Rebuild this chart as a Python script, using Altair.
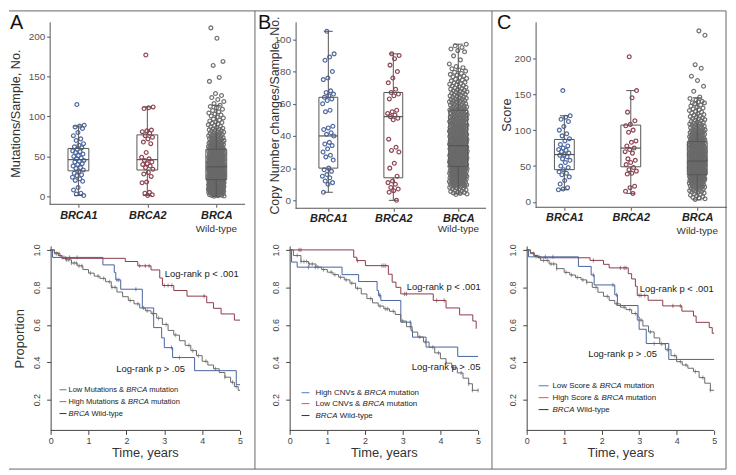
import altair as alt
import pandas as pd

FONT = "Liberation Sans"
CATS = ["BRCA1", "BRCA2", "WT"]
AX = "#555555"

# ======================= box-plot data =======================
# Panel A : Mutations/Sample
a_brca1 = [115, 89, 88, 87, 85, 80, 76, 72, 70, 66, 64, 62, 61, 59, 57, 56, 55, 53, 51, 50,
           48, 47, 45, 44, 43, 41, 40, 38, 36, 35, 33, 31, 29, 27, 26, 24, 22, 20, 19, 11, 8, 4, 3, 1]
a_brca2 = [177, 112, 111, 110, 83, 82, 81, 79, 76, 74, 72, 68, 66, 55, 49, 47, 45, 43, 41, 40,
           38, 36, 34, 30, 28, 25, 18, 17, 5, 4, 2, 1]
a_wt_bin = [2.5, 7.5, 12.5, 17.5, 22.5, 27.5, 32.5, 37.5, 42.5, 47.5, 52.5, 57.5, 62.5, 67.5,
            72.5, 77.5, 82.5, 87.5, 92.5, 97.5, 102.5, 107.5, 112.5, 117.5, 122.5, 127.5]
a_wt_cnt = [15, 27, 33, 37, 38, 37, 35, 32, 29, 26, 22, 19, 16, 13, 11, 9, 8, 6, 5, 4, 4, 3, 3, 2, 2, 2]
a_wt_out = [144, 149, 164, 169, 198, 211]
a_lo = [1, 1, 0]
a_q1 = [32, 33, 21]
a_med = [46, 46, 37]
a_q3 = [60, 77, 59]
a_hi = [88, 112, 114]

# Panel B : Copy Number changes/Sample
b_brca1 = [105, 91, 89, 87, 80, 76, 75, 68, 67, 66, 65, 64, 63, 62, 60, 56, 55, 46, 45, 44,
           42, 41, 40, 36, 35, 34, 32, 30, 28, 27, 25, 20, 19, 18, 16, 15, 14, 12, 11, 10, 5]
b_brca2 = [91, 90, 88, 84, 80, 76, 73, 69, 67, 66, 65, 63, 56, 55, 54, 53, 52, 51, 50, 38,
           33, 31, 30, 23, 20, 15, 12, 11, 10, 8, 7, 6, 5, 0]
b_wt_bin = [6, 11, 16, 21, 26, 31, 36, 41, 46, 51, 56, 61, 66, 71, 76, 81, 86, 91, 95]
b_wt_cnt = [16, 30, 36, 40, 42, 40, 36, 32, 28, 25, 22, 19, 16, 13, 10, 7, 2, 2, 5]
b_wt_out = []
b_lo = [5, 0, 4]
b_q1 = [20, 14, 21]
b_med = [40, 52, 34]
b_q3 = [64, 67, 56]
b_hi = [105, 91, 97]

# Panel C : Score
c_brca1 = [155, 120, 118, 115, 112, 105, 100, 95, 92, 88, 85, 80, 78, 75, 73, 72, 70, 68, 66,
           65, 63, 60, 58, 55, 50, 48, 45, 42, 40, 38, 35, 30, 25, 20, 18, 17]
c_brca2 = [202, 155, 145, 125, 113, 108, 106, 100, 97, 85, 83, 78, 75, 73, 70, 68, 60, 58, 55,
           52, 48, 45, 43, 40, 39, 22, 20, 15, 12]
c_wt_bin = [8, 18, 27, 35, 45, 55, 65, 75, 85, 95, 105, 115, 125, 135, 142]
c_wt_cnt = [10, 16, 22, 38, 50, 52, 45, 38, 30, 22, 16, 12, 9, 7, 5]
c_wt_out = [154, 161, 169, 175, 186, 191, 232, 238]
c_lo = [17, 12, 3]
c_q1 = [45, 49, 38]
c_med = [66, 75, 57]
c_q3 = [87, 107, 84]
c_hi = [120, 155, 145]

# ======================= Kaplan-Meier data =======================
a_blue_t = [0, 0.05, 1.38, 1.68, 1.72, 1.85, 2.42, 2.72, 2.93, 3.0, 3.22, 3.8, 4.9, 5.0]
a_blue_s = [1.0, 0.96, 0.92, 0.88, 0.84, 0.79, 0.69, 0.585, 0.53, 0.478, 0.425, 0.355, 0.28, 0.28]
a_blue_c = [0.5, 0.7, 1.75, 1.8, 2.25, 3.19, 3.4]
a_red_t = [0, 0.1, 0.2, 0.3, 1.97, 2.3, 2.65, 2.88, 2.95, 3.25, 3.6, 4.12, 4.3, 4.5, 4.85, 5.0]
a_red_s = [1.0, 0.985, 0.97, 0.955, 0.938, 0.915, 0.893, 0.85, 0.81, 0.783, 0.753, 0.718, 0.688,
           0.658, 0.625, 0.625]
a_red_c = [0.4, 2.35, 2.5, 2.6, 3.0, 3.1, 3.2, 4.05]
a_wt_t = [0, 0.1, 0.25, 0.4, 0.55, 0.7, 0.85, 1.0, 1.15, 1.3, 1.45, 1.6, 1.75, 1.9, 2.05, 2.2,
          2.35, 2.5, 2.65, 2.8, 2.95, 3.1, 3.25, 3.4, 3.55, 3.7, 3.85, 4.0, 4.15, 4.3, 4.45, 4.6,
          4.75, 4.85, 4.95, 5.0]
a_wt_s = [1.0, 0.98, 0.96, 0.947, 0.93, 0.915, 0.895, 0.876, 0.86, 0.848, 0.83, 0.8, 0.775,
          0.75, 0.73, 0.712, 0.69, 0.675, 0.66, 0.635, 0.602, 0.57, 0.545, 0.515, 0.49, 0.462,
          0.435, 0.405, 0.385, 0.365, 0.345, 0.32, 0.293, 0.27, 0.25, 0.25]
a_wt_c = [0.15, 0.22, 0.3, 0.35, 0.42, 0.48, 0.55, 0.62, 0.68, 0.75, 0.82, 1.05, 1.25, 1.4, 1.55,
          1.62, 1.7, 2.1, 2.3, 2.45, 2.55, 2.7, 2.85, 3.05, 3.3, 3.65, 3.75, 3.9, 4.1, 4.35, 4.6,
          4.8, 4.9]

b_blue_t = [0, 0.05, 0.2, 1.39, 1.83, 2.32, 2.36, 2.42, 2.95, 3.22, 3.26, 3.62, 4.46, 5.0]
b_blue_s = [1.0, 0.935, 0.908, 0.868, 0.831, 0.783, 0.757, 0.73, 0.614, 0.57, 0.534, 0.481,
            0.431, 0.431]
b_blue_c = [0.5, 0.68, 2.38, 2.4, 3.2]
b_red_t = [0, 1.70, 1.78, 2.01, 2.62, 2.72, 2.82, 2.95, 3.81, 4.15, 4.51, 4.86, 4.95]
b_red_s = [1.0, 0.961, 0.943, 0.916, 0.87, 0.828, 0.8, 0.765, 0.73, 0.69, 0.653, 0.62, 0.579]
b_red_c = [0.25, 0.3, 1.8, 2.45, 2.5, 2.55, 3.05, 3.1, 3.9, 4.1]
b_wt_t = [0, 0.1, 0.3, 0.5, 0.7, 0.85, 1.0, 1.15, 1.3, 1.45, 1.6, 1.75, 1.9, 2.05, 2.2, 2.35,
          2.5, 2.65, 2.8, 2.95, 3.1, 3.25, 3.4, 3.55, 3.7, 3.85, 4.0, 4.15, 4.3, 4.45, 4.6, 4.75,
          4.85, 5.0]
b_wt_s = [1.0, 0.97, 0.938, 0.925, 0.908, 0.895, 0.881, 0.868, 0.854, 0.84, 0.822, 0.795, 0.765,
          0.74, 0.717, 0.7, 0.685, 0.672, 0.655, 0.62, 0.59, 0.561, 0.535, 0.508, 0.48, 0.45,
          0.419, 0.395, 0.37, 0.343, 0.315, 0.285, 0.25, 0.25]
b_wt_c = [0.2, 0.3, 0.38, 0.45, 0.52, 0.6, 0.75, 0.9, 1.1, 1.2, 1.35, 1.5, 1.65, 1.8, 2.15, 2.4,
          2.55, 2.6, 2.75, 3.0, 3.2, 3.45, 3.6, 3.8, 3.95, 4.15, 4.35, 4.55, 4.75, 4.85, 5.0]

c_blue_t = [0, 0.05, 1.38, 1.72, 1.8, 2.35, 2.42, 2.97, 3.0, 3.19, 3.79, 5.0]
c_blue_s = [1.0, 0.963, 0.912, 0.866, 0.813, 0.76, 0.703, 0.642, 0.576, 0.5, 0.415, 0.415]
c_blue_c = [0.5, 0.7, 1.78, 2.3, 2.4, 3.4]
c_red_t = [0, 0.1, 0.2, 0.3, 1.69, 2.05, 2.2, 2.71, 2.8, 2.9, 2.95, 3.24, 3.63, 4.14, 4.45,
           4.52, 4.87, 4.95, 5.0]
c_red_s = [1.0, 0.985, 0.97, 0.958, 0.944, 0.923, 0.904, 0.873, 0.845, 0.806, 0.757, 0.731,
           0.701, 0.673, 0.647, 0.613, 0.585, 0.555, 0.555]
c_red_c = [1.78, 2.5, 2.6, 2.65, 3.0, 3.05, 3.15, 3.9, 4.1]
c_wt_t = [0, 0.1, 0.2, 0.37, 0.6, 0.8, 1.0, 1.15, 1.3, 1.45, 1.6, 1.75, 1.9, 2.05, 2.2, 2.35,
          2.5, 2.65, 2.8, 2.95, 3.1, 3.25, 3.4, 3.55, 3.7, 3.85, 4.0, 4.15, 4.3, 4.45, 4.6, 4.75,
          4.9, 5.0]
c_wt_s = [1.0, 0.98, 0.965, 0.944, 0.925, 0.9, 0.88, 0.866, 0.853, 0.84, 0.827, 0.8, 0.774,
          0.752, 0.73, 0.712, 0.694, 0.681, 0.66, 0.625, 0.594, 0.562, 0.53, 0.498, 0.467, 0.435,
          0.403, 0.385, 0.368, 0.35, 0.318, 0.288, 0.25, 0.25]
c_wt_c = [0.18, 0.25, 0.33, 0.45, 0.55, 0.65, 0.72, 0.8, 1.05, 1.2, 1.35, 1.5, 1.6, 1.85, 2.15,
          2.4, 2.6, 2.75, 2.9, 3.05, 3.3, 3.6, 3.75, 3.95, 4.1, 4.25, 4.5, 4.7, 4.9]

KM_COLORS = ["#3f80c4", "#ee4a4a", "#333333"]

# ======================= helpers =======================
CW = {' ': 278, '&': 667, '-': 333, '.': 278, ',': 278, 'A': 667, 'B': 667, 'C': 722, 'H': 722,
      'L': 556, 'M': 833, 'N': 722, 'R': 722, 'S': 667, 'V': 667, 'W': 944, 'a': 556, 'c': 500,
      'd': 556, 'e': 556, 'g': 556, 'h': 556, 'i': 222, 'l': 222, 'm': 833, 'n': 556, 'o': 556,
      'p': 556, 'r': 333, 's': 500, 't': 278, 'u': 556, 'w': 722, 'y': 500}


def tw(s, fs):
    return sum(CW.get(ch, 556) for ch in s) * fs / 1000.0


def expand(centers, counts, half):
    out = []
    for c, n in zip(centers, counts):
        for k in range(n):
            out.append(c + half * (2 * (k + 0.5) / n - 1))
    return out


def one():
    return alt.Data(values=[{"k": 1}])


def box_panel(groups, lo, q1, med, q3, hi, colors, W, H, xdom, ydom, yticks, ytitle, tfs, tx,
              yoff, unit, jit, bhw, axis_x, xlp, wt_base, letter, lxy, extra=()):
    xs = alt.Scale(domain=xdom, nice=False, zero=False)
    ys = alt.Scale(domain=ydom, nice=False, zero=False)
    xax = alt.Axis(values=[1, 2, 3],
                   labelExpr="datum.value == 1 ? 'BRCA1' : datum.value == 2 ? 'BRCA2' : 'BRCA'",
                   labelFontWeight="bold", labelFontStyle="italic", labelFontSize=11,
                   labelColor="#222", labelPadding=xlp, labelFlush=False, labelOverlap=False,
                   tickSize=3, tickColor=AX, domain=False, grid=False, title=None)
    yax = alt.Axis(values=yticks, tickSize=3, tickColor=AX, domainColor=AX, labelFontSize=10,
                   labelColor="#555", labelPadding=2, grid=False, offset=yoff, title=ytitle,
                   titleFontSize=tfs, titleFontWeight="normal", titleColor="#333",
                   titleAngle=270, titleX=tx, titleY=H / 2, titleAlign="center",
                   titleBaseline="alphabetic")

    def X(f):
        return alt.X(f, type="quantitative", scale=xs, axis=xax)

    def Y(f):
        return alt.Y(f, type="quantitative", scale=ys, axis=yax)

    rows = []
    for gi, vals in enumerate(groups):
        for i, v in enumerate(vals):
            u = ((i * 0.6180339887 + 0.37) % 1.0) * 2 - 1
            rows.append({"x": gi + 1 + u * jit[gi] / unit, "v": v, "g": CATS[gi]})
    pts = pd.DataFrame(rows)

    hw = bhw / unit
    cw = 4.5 / unit
    bx = pd.DataFrame({"c": [1, 2, 3], "l": [1 - hw, 2 - hw, 3 - hw], "r": [1 + hw, 2 + hw, 3 + hw],
                       "cl": [1 - cw, 2 - cw, 3 - cw], "cr": [1 + cw, 2 + cw, 3 + cw],
                       "lo": lo, "q1": q1, "med": med, "q3": q3, "hi": hi})

    layers = list(extra)
    layers.append(alt.Chart(pts).mark_point(shape="circle", filled=False, size=15, strokeWidth=1.2,
                                            opacity=0.95).encode(
        x=X("x"), y=Y("v"),
        color=alt.Color("g:N", scale=alt.Scale(domain=CATS, range=colors), legend=None)))
    base = alt.Chart(bx)
    layers.append(base.mark_rule(color=AX, strokeWidth=1).encode(x=X("c"), y=Y("q3"), y2="hi"))
    layers.append(base.mark_rule(color=AX, strokeWidth=1).encode(x=X("c"), y=Y("lo"), y2="q1"))
    layers.append(base.mark_rule(color=AX, strokeWidth=1).encode(x=X("cl"), x2="cr", y=Y("hi")))
    layers.append(base.mark_rule(color=AX, strokeWidth=1).encode(x=X("cl"), x2="cr", y=Y("lo")))
    layers.append(base.mark_rect(fillOpacity=0, stroke=AX, strokeWidth=1).encode(
        x=X("l"), x2="r", y=Y("q1"), y2="q3"))
    layers.append(base.mark_rule(color=AX, strokeWidth=1.2).encode(x=X("l"), x2="r", y=Y("med")))
    # x-axis line
    layers.append(alt.Chart(pd.DataFrame({"a": [axis_x[0]], "b": [axis_x[1]]})).mark_rule(
        color=AX, strokeWidth=1).encode(x=X("a"), x2="b", y=alt.value(H)))
    # second line of the third category label
    layers.append(alt.Chart(pd.DataFrame({"c": [3], "t": ["Wild-type"]})).mark_text(
        fontSize=10, color="#333", align="center", baseline="alphabetic").encode(
        x=X("c"), y=alt.value(wt_base), text="t:N"))
    # panel letter
    layers.append(alt.Chart(one()).mark_text(text=letter, fontSize=20, color="#111",
                                             align="left", baseline="top").encode(
        x=alt.value(lxy[0]), y=alt.value(lxy[1])))
    return alt.layer(*layers).properties(width=W, height=H)


def lookup(ts, ss, t):
    v = ss[0]
    for a, b in zip(ts, ss):
        if a <= t:
            v = b
    return v


def km_panel(curves, W, H, xdom, yoff, ytitle, legend, lx, ly, lfs, lr):
    xs = alt.Scale(domain=xdom, nice=False, zero=False)
    ys = alt.Scale(domain=[0.0358, 1.0212], nice=False, zero=False)
    xax = alt.Axis(values=[0, 1, 2, 3, 4, 5], tickSize=4, tickColor="#444", labelFontSize=9,
                   labelColor="#444", labelPadding=2, labelFlush=False, domain=False, grid=False,
                   title="Time, years", titleFontSize=13, titleFontWeight="normal",
                   titleColor="#333", titleY=26, titleBaseline="alphabetic")
    ykw = dict(values=[0.2, 0.4, 0.6, 0.8, 1.0], format=".1f", labelAngle=270,
               labelAlign="center", labelBaseline="bottom", labelFontSize=9, labelColor="#444",
               labelPadding=5, tickSize=4, tickColor="#444", domainColor="#444", grid=False,
               offset=yoff)
    if ytitle:
        ykw.update(title=ytitle, titleFontSize=13, titleFontWeight="normal", titleColor="#333",
                   titleAngle=270, titleX=-27, titleY=H / 2, titleAlign="center",
                   titleBaseline="alphabetic")
    else:
        ykw.update(title=None)
    yax = alt.Axis(**ykw)

    def X(f):
        return alt.X(f, type="quantitative", scale=xs, axis=xax)

    def Y(f):
        return alt.Y(f, type="quantitative", scale=ys, axis=yax)

    names = ["mut_low", "mut_high", "wt"]
    lrows, crows = [], []
    for gi, (ts, ss, cs) in enumerate(curves):
        for a, b in zip(ts, ss):
            lrows.append({"t": a, "s": b, "g": names[gi]})
        for c in cs:
            crows.append({"t": c, "s": lookup(ts, ss, c), "g": names[gi]})
    col = alt.Color("g:N", scale=alt.Scale(domain=names, range=KM_COLORS), legend=None)
    layers = [
        alt.Chart(pd.DataFrame(lrows)).mark_line(interpolate="step-after", strokeWidth=1).encode(
            x=X("t"), y=Y("s"), color=col),
        alt.Chart(pd.DataFrame(crows)).mark_point(shape="M0,-1L0,1M-0.45,0L0.45,0", size=18,
                                                  filled=False, strokeWidth=0.9).encode(
            x=X("t"), y=Y("s"), color=col),
        alt.Chart(pd.DataFrame({"a": [0], "b": [5]})).mark_rule(color="#444", strokeWidth=1).encode(
            x=X("a"), x2="b", y=alt.value(H)),
        alt.Chart(pd.DataFrame(lr)).mark_text(fontSize=9.5, color="#222", align="left",
                                              baseline="middle").encode(
            x=X("t"), y=Y("s"), text="txt:N"),
    ]
    for i, pieces in enumerate(legend):
        y = ly[i]
        layers.append(alt.Chart(one()).mark_rule(color=KM_COLORS[i], strokeWidth=1).encode(
            x=alt.value(lx[0]), x2=alt.value(lx[1]), y=alt.value(y)))
        cur = lx[2]
        for txt, ital in pieces:
            lead = len(txt) - len(txt.lstrip())
            cur += tw(txt[:lead], lfs)
            kw = dict(text=txt.strip(), fontSize=lfs, color="#222", align="left",
                      baseline="middle")
            if ital:
                kw["fontStyle"] = "italic"
            layers.append(alt.Chart(one()).mark_text(**kw).encode(
                x=alt.value(cur), y=alt.value(y)))
            cur += tw(txt[lead:], lfs)
    return alt.layer(*layers).properties(width=W, height=H)


# ======================= frame lines (drawn in panel A coordinates) =======================
FR = dict(color="#666", strokeWidth=1)
frame = [
    alt.Chart(one()).mark_rule(**FR).encode(x=alt.value(-41), x2=alt.value(682), y=alt.value(-11)),
    alt.Chart(one()).mark_rule(**FR).encode(x=alt.value(-41), x2=alt.value(682), y=alt.value(451)),
    alt.Chart(one()).mark_rule(**FR).encode(x=alt.value(207), y=alt.value(-11), y2=alt.value(451)),
    alt.Chart(one()).mark_rule(**FR).encode(x=alt.value(446), y=alt.value(-11), y2=alt.value(451)),
    alt.Chart(one()).mark_rule(**FR).encode(x=alt.value(682), y=alt.value(-11), y2=alt.value(451)),
]

boxA = box_panel([a_brca1, a_brca2, expand(a_wt_bin, a_wt_cnt, 2.5) + a_wt_out],
                 a_lo, a_q1, a_med, a_q3, a_hi, ["#46639e", "#8a3c4a", "#6a6a6a"],
                 W=197, H=184, xdom=[0.583, 3.417], ydom=[-9.94, 218.6],
                 yticks=[0, 50, 100, 150, 200], ytitle="Mutations/Sample, No.", tfs=12.8, tx=-30,
                 yoff=0, unit=69.5, jit=[6, 6, 8], bhw=10.5, axis_x=[0.583, 3.417], xlp=2,
                 wt_base=212, letter="A", lxy=(-40, -9), extra=frame)

boxB = box_panel([b_brca1, b_brca2, expand(b_wt_bin, b_wt_cnt, 2.5) + b_wt_out],
                 b_lo, b_q1, b_med, b_q3, b_hi, ["#3f5c96", "#7d3e6c", "#6a6a6a"],
                 W=194, H=188, xdom=[0.4046, 3.366], ydom=[-4.93, 110.9],
                 yticks=[0, 20, 40, 60, 80, 100], ytitle="Copy Number changes/Sample, No.",
                 tfs=12.5, tx=-17, yoff=-6, unit=65.5, jit=[6, 6, 9], bhw=9.5,
                 axis_x=[0.496, 3.427], xlp=1, wt_base=212, letter="B", lxy=(-32, -9))

boxC = box_panel([c_brca1, c_brca2, expand(c_wt_bin, c_wt_cnt, 5) + c_wt_out],
                 c_lo, c_q1, c_med, c_q3, c_hi, ["#3c5a98", "#7d3f6d", "#6a6a6a"],
                 W=202, H=187, xdom=[0.433, 3.448], ydom=[-7.3, 250.6],
                 yticks=[0, 50, 100, 150, 200], ytitle="Score", tfs=13, tx=-25, yoff=-9,
                 unit=67, jit=[6, 6, 8], bhw=10, axis_x=[0.567, 3.448], xlp=1, wt_base=214,
                 letter="C", lxy=(-30, -9))

legA = [[("Low Mutations & ", False), ("BRCA", True), (" mutation", False)],
        [("High Mutations & ", False), ("BRCA", True), (" mutation", False)],
        [("BRCA", True), (" Wild-type", False)]]
legB = [[("High CNVs & ", False), ("BRCA", True), (" mutation", False)],
        [("Low CNVs & ", False), ("BRCA", True), (" mutation", False)],
        [("BRCA", True), (" Wild-type", False)]]
legC = [[("Low Score & ", False), ("BRCA", True), (" mutation", False)],
        [("High Score & ", False), ("BRCA", True), (" mutation", False)],
        [("BRCA", True), (" Wild-type", False)]]

lrA = [{"t": 3.01, "s": 0.873, "txt": "Log-rank p < .001"},
       {"t": 1.73, "s": 0.364, "txt": "Log-rank p > .05"}]
lrB = [{"t": 3.105, "s": 0.803, "txt": "Log-rank p < .001"},
       {"t": 3.24, "s": 0.376, "txt": "Log-rank p > .05"}]
lrC = [{"t": 3.016, "s": 0.793, "txt": "Log-rank p < .001"},
       {"t": 1.64, "s": 0.444, "txt": "Log-rank p > .05"}]

kmA = km_panel([(a_blue_t, a_blue_s, a_blue_c), (a_red_t, a_red_s, a_red_c),
                (a_wt_t, a_wt_s, a_wt_c)], W=192, H=186, xdom=[-0.026, 5], yoff=-1,
               ytitle="Proportion", legend=legA, lx=(10, 17, 19), ly=[145, 157, 169], lfs=7.6,
               lr=lrA)
kmB = km_panel([(b_blue_t, b_blue_s, b_blue_c), (b_red_t, b_red_s, b_red_c),
                (b_wt_t, b_wt_s, b_wt_c)], W=190, H=186, xdom=[0, 5], yoff=0, ytitle=None,
               legend=legB, lx=(12, 20, 26), ly=[148, 159, 171], lfs=8, lr=lrB)
kmC = km_panel([(c_blue_t, c_blue_s, c_blue_c), (c_red_t, c_red_s, c_red_c),
                (c_wt_t, c_wt_s, c_wt_c)], W=189, H=186, xdom=[0, 5], yoff=0, ytitle=None,
               legend=legC, lx=(12, 22, 26), ly=[141, 153, 165], lfs=8, lr=lrC)

chart = alt.concat(boxA, boxB, boxC, kmA, kmB, kmC, columns=3,
                   spacing={"row": 38, "column": 45}, bounds="flush", align="each").properties(
    padding=0
).configure_view(stroke=None).configure_axis(labelFont=FONT, titleFont=FONT).configure_text(
    font=FONT)

chart.save("out.html", embed_options={"renderer": "svg", "actions": False})
